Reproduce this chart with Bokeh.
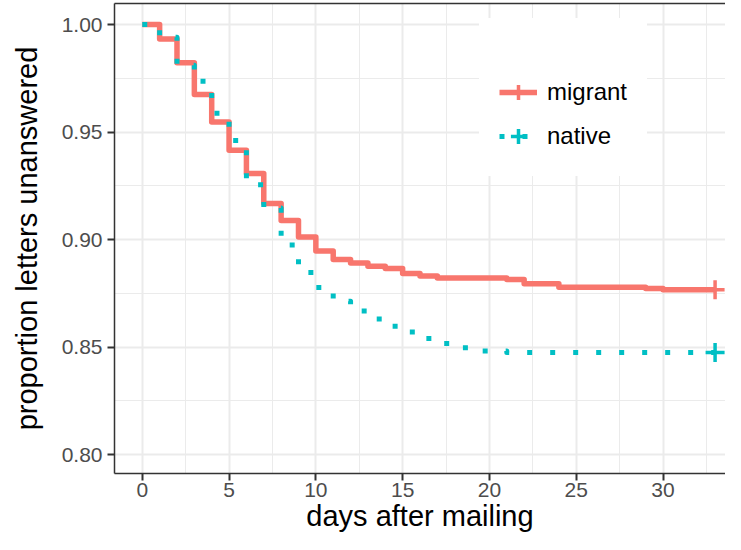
from bokeh.plotting import figure
from bokeh.models import FixedTicker, LinearAxis, Legend, LegendItem, Range1d, Grid
from bokeh.embed import file_html
from bokeh.resources import INLINE

# ---- data ----
end_day = 33
migrant_days = [0, 1, 2, 3, 4, 5, 6, 7, 8, 9, 10, 11, 12, 13, 14, 15, 16, 17, 21, 22, 24, 29, 30]
migrant_prop = [1.0, 0.9933, 0.9822, 0.9674, 0.9547, 0.9415, 0.9307, 0.9167, 0.9089, 0.9012,
                0.8946, 0.8907, 0.8891, 0.8876, 0.8865, 0.8842, 0.8830, 0.8821, 0.8814,
                0.8794, 0.8778, 0.8772, 0.8766]
native_days = [0, 1, 2, 3, 4, 5, 6, 7, 8, 9, 10, 11, 12, 13, 14, 15, 16, 17, 18, 19, 21]
native_prop = [1.0, 0.9941, 0.9811, 0.9736, 0.9587, 0.9460, 0.9255, 0.9147, 0.8974, 0.8847,
               0.8777, 0.8713, 0.8667, 0.8630, 0.8597, 0.8570, 0.8540, 0.8516, 0.8496,
               0.8481, 0.8474]
series_names = ["migrant", "native"]
series_colors = ["#F8766D", "#00BFC4"]
x_ticks = [0, 5, 10, 15, 20, 25, 30]
x_minor = [2.5, 7.5, 12.5, 17.5, 22.5, 27.5, 32.5]
y_ticks = [0.80, 0.85, 0.90, 0.95, 1.00]
y_tick_labels = ["0.80", "0.85", "0.90", "0.95", "1.00"]
y_minor = [0.825, 0.875, 0.925, 0.975]
x_title = "days after mailing"
y_title = "proportion letters unanswered"

FONT = "Liberation Sans"

p = figure(width=725, height=534, output_backend="svg", toolbar_location=None,
           x_range=Range1d(-1.6, 33.6), y_range=Range1d(0.79117, 1.00977),
           x_axis_type=None, y_axis_type=None,
           min_border_left=114, min_border_right=0, min_border_top=3, min_border_bottom=60)
p.background_fill_color = "white"
p.border_fill_color = "white"
p.outline_line_color = None

def style_axis(ax):
    ax.axis_line_color = "#333333"
    ax.axis_line_width = 1.5
    ax.major_tick_line_color = "#333333"
    ax.major_tick_line_width = 2
    ax.major_tick_out = 7
    ax.major_tick_in = 0
    ax.minor_tick_out = 0
    ax.minor_tick_in = 0
    ax.major_label_text_color = "#4D4D4D"
    ax.major_label_text_font = FONT
    ax.major_label_text_font_size = "21px"
    ax.axis_label_text_font = FONT
    ax.axis_label_text_font_size = "29px"
    ax.axis_label_text_font_style = "normal"
    ax.axis_label_text_color = "black"

xticker = FixedTicker(ticks=x_ticks, minor_ticks=x_minor)
yticker = FixedTicker(ticks=y_ticks, minor_ticks=y_minor)

xaxis = LinearAxis(ticker=xticker, axis_label=x_title)
style_axis(xaxis)
xaxis.major_label_standoff = 2
xaxis.axis_label_standoff = 0
p.add_layout(xaxis, "below")

yaxis = LinearAxis(ticker=yticker, axis_label=y_title)
style_axis(yaxis)
yaxis.major_label_overrides = {t: l for t, l in zip(y_ticks, y_tick_labels)}
yaxis.major_label_standoff = 5
yaxis.axis_label_standoff = 16
p.add_layout(yaxis, "left")

top = LinearAxis(ticker=FixedTicker(ticks=[]))
top.axis_line_color = "#333333"
top.axis_line_width = 1.5
top.major_tick_out = 0
top.major_tick_in = 0
top.minor_tick_out = 0
top.minor_tick_in = 0
top.major_label_text_font_size = "0px"
p.add_layout(top, "above")

for dim, tk in ((0, xticker), (1, yticker)):
    g = Grid(dimension=dim, ticker=tk,
             grid_line_color="#EBEBEB", grid_line_width=2,
             minor_grid_line_color="#EBEBEB", minor_grid_line_width=1)
    p.add_layout(g)

items = []
for name, color, days, prop, dash, lw in [
        (series_names[0], series_colors[0], migrant_days, migrant_prop, "solid", 5.5),
        (series_names[1], series_colors[1], native_days, native_prop, "5 18", 5)]:
    xs = list(days) + [end_day]
    ys = list(prop) + [prop[-1]]
    r1 = p.step(x=xs, y=ys, mode="after", line_color=color, line_width=lw,
                line_dash=dash, line_join="round")
    r2 = p.scatter(x=[end_day], y=[prop[-1]], marker="cross", size=19,
                   line_color=color, line_width=3.5)
    items.append(LegendItem(label=name, renderers=[r1, r2]))

legend = Legend(items=items, location=(365, 297), title=" ",
                title_text_font_size="24px", title_standoff=6,
                label_text_font=FONT, label_text_font_size="24px", label_text_color="black",
                glyph_width=38, glyph_height=40, spacing=4, padding=19, label_standoff=10,
                border_line_color="white", border_line_width=1,
                background_fill_color="white", background_fill_alpha=1.0,
                margin=0)
p.add_layout(legend, "center")

open("out.html", "w").write(file_html(p, INLINE))
